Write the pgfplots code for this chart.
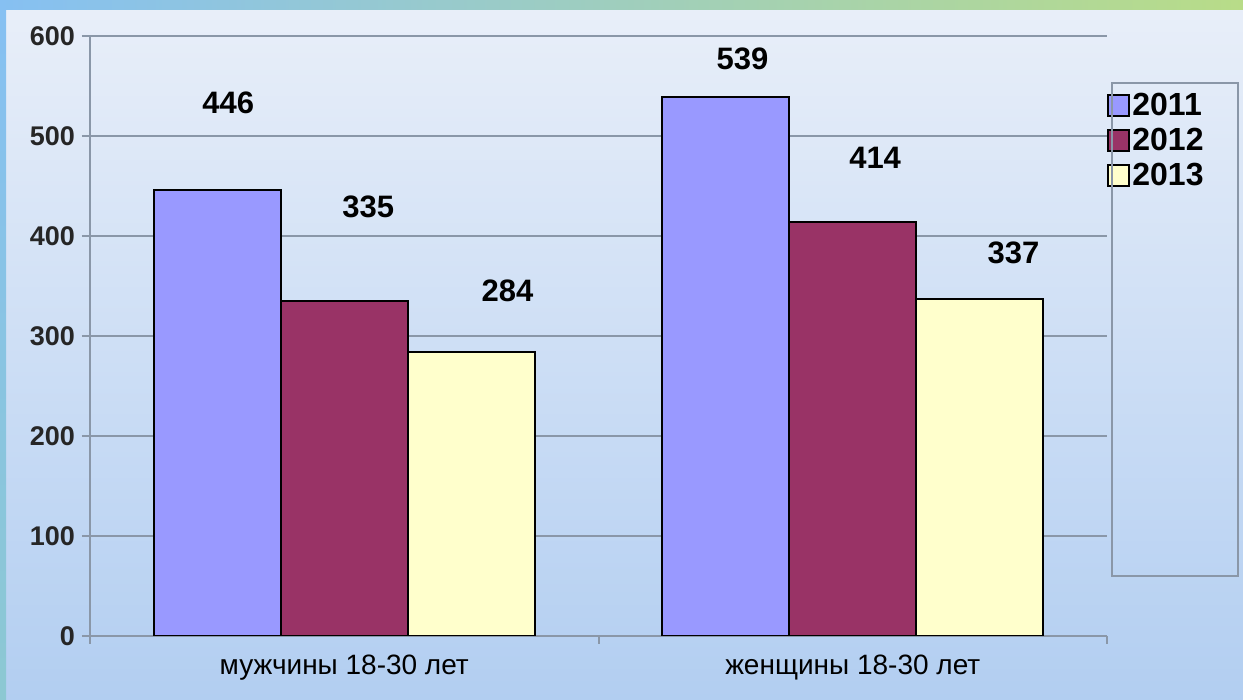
\documentclass[border=0pt]{standalone}
\usepackage{pgfplots}
\pgfplotsset{compat=1.18}
\usepackage{fontspec}
\setmainfont{Liberation Sans}

\definecolor{c2011}{HTML}{9999FF}
\definecolor{c2012}{HTML}{993366}
\definecolor{c2013}{HTML}{FFFFCC}
\definecolor{gridc}{HTML}{8A97A8}
\definecolor{bgtop}{HTML}{E9EFF9}
\definecolor{bgbot}{HTML}{B2CEF1}
\definecolor{edgeL}{HTML}{86C0F2}
\definecolor{edgeR}{HTML}{B8DC88}
\definecolor{edgeB}{HTML}{8CC8D2}

\pgfplotsset{
  sqlegend/.style={legend image code/.code={%
    \draw[##1, line width=0.8pt] (0pt,-5.25pt) rectangle (10.5pt,5.25pt);}},
}

% label positions (data units)
\pgfplotstableread{
x      y    lab
-0.228 533  446
0.047  429  335
0.321  345  284
0.783  577  539
1.044  478  414
1.316  383  337
}\labtab

\begin{document}
\begin{tikzpicture}[x=0.5pt,y=0.5pt]
\useasboundingbox (0,0) rectangle (1243,700);
% background and edges
\shade[top color=bgtop, bottom color=bgbot] (0,0) rectangle (1243,700);
\shade[left color=edgeL, right color=edgeR] (0,690) rectangle (1243,700);
\shade[top color=edgeL, bottom color=edgeB] (0,0) rectangle (6,690);

\begin{axis}[
  at={(45pt,32pt)}, anchor=south west,
  scale only axis, width=508.5pt, height=300pt,
  xmin=-0.5, xmax=1.5, ymin=0, ymax=600,
  axis x line*=bottom, axis y line*=left,
  axis line style={gridc, line width=1pt},
  ytick={0,100,...,600},
  ymajorgrids, grid style={gridc, line width=1pt},
  tick align=outside, major tick length=4pt,
  tick style={gridc, line width=1pt},
  xtick={-0.5,0.5,1.5}, xticklabels={},
  extra x ticks={0,1},
  extra x tick labels={мужчины 18-30 лет, женщины 18-30 лет},
  extra x tick style={major tick length=0pt,
    xticklabel style={yshift=-6pt}},
  xticklabel style={font=\fontsize{14}{16}\selectfont, black},
  yticklabel style={font=\bfseries\fontsize{13.5}{16}\selectfont, black!85},
  /pgf/number format/assume math mode=true,
  legend style={at={(1.0,0.91)}, anchor=north west, draw=none, fill=none,
    font=\bfseries\fontsize{16}{18}\selectfont, inner sep=0pt, row sep=2.5pt,
    nodes={inner sep=1.2pt}},
  legend cell align=left,
]
\addplot[ybar, bar width=63.5pt, bar shift=-63.5pt, fill=c2011, draw=black,
  line width=1pt, sqlegend] coordinates {(0,446) (1,539)};
\addplot[ybar, bar width=63.5pt, bar shift=0pt, fill=c2012, draw=black,
  line width=1pt, sqlegend] coordinates {(0,335) (1,414)};
\addplot[ybar, bar width=63.5pt, bar shift=63.5pt, fill=c2013, draw=black,
  line width=1pt, sqlegend] coordinates {(0,284) (1,337)};
\legend{2011,2012,2013}
\addplot[forget plot, draw=none, mark=none, nodes near coords,
  point meta=explicit symbolic,
  nodes near coords style={anchor=center, black,
    font=\bfseries\fontsize{15.5}{17}\selectfont}]
  table[x=x, y=y, meta=lab] {\labtab};
\end{axis}

% legend frame
\draw[gridc, line width=1pt] (1112,124) rectangle (1238,617);
\end{tikzpicture}
\end{document}
